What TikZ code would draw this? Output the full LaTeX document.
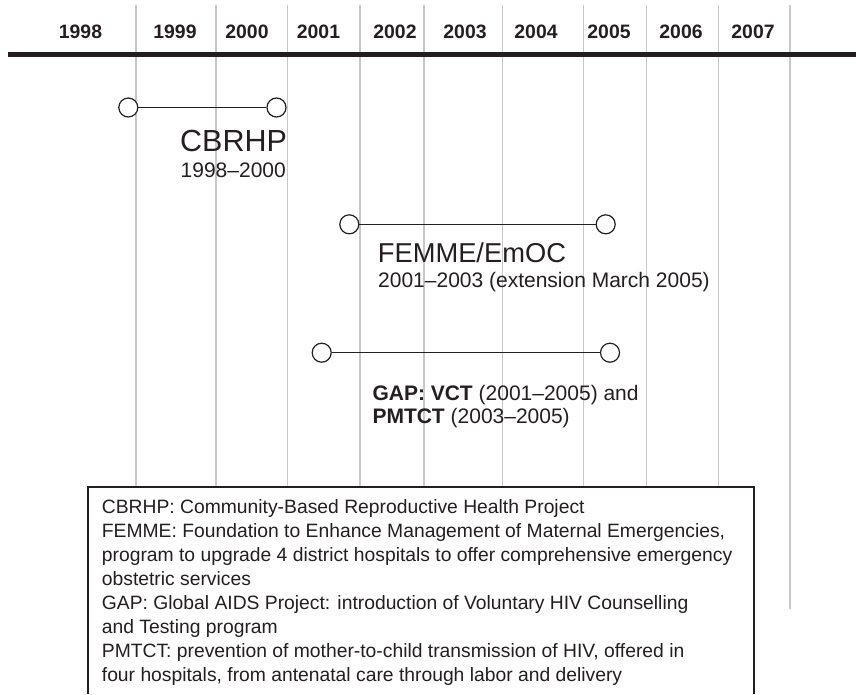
\documentclass[tikz,border=0pt]{standalone}
\usepackage{fontspec}
\setmainfont{Liberation Sans}
\definecolor{ink}{HTML}{231F20}
\definecolor{grid}{HTML}{C8C8C8}
\begin{document}
\begin{tikzpicture}[x=1pt,y=-1pt,
  gridline/.style={draw=grid,line width=1.5pt},
  year/.style={anchor=base,inner sep=0pt,text=ink,font=\fontsize{19.4}{22}\selectfont\bfseries},
  dot/.style={circle,draw=ink,fill=white,line width=1.2pt,minimum size=19pt,inner sep=0pt},
  span/.style={draw=ink,line width=1.2pt},
  title/.style={anchor=base west,inner sep=0pt,text=ink,font=\fontsize{30.5}{34}\selectfont},
  title2/.style={anchor=base west,inner sep=0pt,text=ink,font=\fontsize{27.3}{34}\selectfont},
  sub/.style={anchor=base west,inner sep=0pt,text=ink,font=\fontsize{21}{24}\selectfont},
  legend/.style={anchor=base west,inner sep=0pt,text=ink,font=\fontsize{19.3}{24}\selectfont}]
\useasboundingbox (0,0) rectangle (856,694);
% grid lines
\foreach \x/\n in {136/g1,216/g2,287.5/g3,360/g4,424/g5,502.7/g6,583.7/g7,646.5/g8,718.3/g9}{
  \coordinate (\n t) at (\x,5);
  \coordinate (\n b) at (\x,486);
  \draw[gridline] (\n t) -- (\n b);
}
\coordinate (g10t) at (790,5);
\coordinate (g10b) at (790,609);
\draw[gridline] (g10t) -- (g10b);
% axis
\coordinate (axl) at (8,54.7);
\coordinate (axr) at (856,54.7);
\draw[ink,line width=4.5pt] (axl) -- (axr);
% years
\node[year] (y1998) at (80.5,38.3) {1998};
\node[year] (y1999) at (175,38.3) {1999};
\node[year] (y2000) at (247,38.3) {2000};
\node[year] (y2001) at (318.5,38.3) {2001};
\node[year] (y2002) at (395,38.3) {2002};
\node[year] (y2003) at (465,38.3) {2003};
\node[year] (y2004) at (536,38.3) {2004};
\node[year] (y2005) at (609,38.3) {2005};
\node[year] (y2006) at (681,38.3) {2006};
\node[year] (y2007) at (753,38.3) {2007};
% CBRHP
\node[dot] (c1) at (128.3,107.5) {};
\node[dot] (c2) at (276.5,107.5) {};
\draw[span] (c1) -- (c2);
\node[title] (cbt) at (180,151.7) {CBRHP};
\node[sub] (cbs) at (180.5,177.3) {1998–2000};
% FEMME
\node[dot] (f1) at (349.3,224.3) {};
\node[dot] (f2) at (605.7,224.3) {};
\draw[span] (f1) -- (f2);
\node[title2] (fet) at (377.7,262.3) {FEMME/EmOC};
\node[sub] (fes) at (378,287.3) {2001–2003 (extension March 2005)};
% GAP
\node[dot] (p1) at (321.7,352.7) {};
\node[dot] (p2) at (610,352.7) {};
\draw[span] (p1) -- (p2);
\node[sub] (gp1) at (372.3,400) {\textbf{GAP: VCT} (2001–2005) and};
\node[sub] (gp2) at (372.3,423.3) {\textbf{PMTCT} (2003–2005)};
% legend box
\coordinate (bxbl) at (88.3,694);
\coordinate (bxtl) at (88.3,486.7);
\coordinate (bxtr) at (754,486.7);
\coordinate (bxbr) at (754,694);
\fill[white] (bxbl) rectangle (bxtr);
\draw[ink,line width=2pt] (bxbl) -- (bxtl) -- (bxtr) -- (bxbr);
\node[legend] (l1) at (101.7,513.3) {CBRHP: Community-Based Reproductive Health Project};
\node[legend] (l2) at (101.7,537.3) {FEMME: Foundation to Enhance Management of Maternal Emergencies,};
\node[legend] (l3) at (101.7,561.5) {program to upgrade 4 district hospitals to offer comprehensive emergency};
\node[legend] (l4) at (101.7,585.5) {obstetric services};
\node[legend] (l5) at (101.7,609.5) {GAP: Global AIDS Project: introduction of Voluntary HIV Counselling};
\node[legend] (l6) at (101.7,633.5) {and Testing program};
\node[legend] (l7) at (101.7,657.5) {PMTCT: prevention of mother-to-child transmission of HIV, offered in};
\node[legend] (l8) at (101.7,681.5) {four hospitals, from antenatal care through labor and delivery};
\end{tikzpicture}
\end{document}
